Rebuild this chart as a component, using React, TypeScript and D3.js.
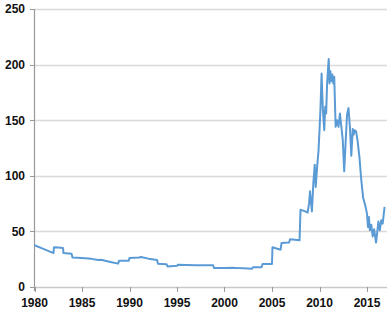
import React from "react";
import * as d3 from "d3";

const dates: number[] = [
  1980.0, 1981.0, 1982.0, 1982.05, 1982.5, 1983.0, 1983.05, 1983.9, 1984.0, 1985.0,
  1986.0, 1986.7, 1987.0, 1988.0, 1988.8, 1988.9, 1989.9, 1990.0, 1991.0, 1991.2,
  1992.0, 1992.9, 1993.0, 1993.9, 1994.0, 1995.0, 1995.1, 1996.0, 1997.0, 1998.8,
  1998.9, 2000.0, 2001.0, 2002.0, 2002.9, 2003.0, 2003.9, 2004.0, 2005.0, 2005.05,
  2005.9, 2006.0, 2006.8, 2006.9, 2007.9, 2008.0, 2008.5, 2008.75, 2008.9, 2009.0,
  2009.2, 2009.35, 2009.5, 2009.6, 2009.75, 2009.9, 2010.0, 2010.1, 2010.22, 2010.35,
  2010.5, 2010.6, 2010.7, 2010.8, 2010.97, 2011.05, 2011.15, 2011.25, 2011.35, 2011.45,
  2011.55, 2011.7, 2011.85, 2012.0, 2012.15, 2012.3, 2012.45, 2012.6, 2012.75, 2012.9,
  2013.05, 2013.2, 2013.35, 2013.5, 2013.6, 2013.7, 2013.85, 2014.0, 2014.2, 2014.4,
  2014.6, 2014.8, 2015.0, 2015.1, 2015.2, 2015.3, 2015.45, 2015.6, 2015.75, 2015.95,
  2016.05, 2016.2, 2016.35, 2016.5, 2016.65, 2016.85,
];

const values: number[] = [
  37.5, 34, 30.5, 35.8, 35.5, 35, 30.5, 30, 26.5, 26,
  25.3, 24.3, 24.5, 22.5, 21, 23.5, 23.5, 26, 26.5, 27,
  25.5, 24.3, 21, 20.5, 18.5, 19, 20, 19.8, 19.5, 19.5,
  17, 17, 17.2, 16.8, 16.5, 17.8, 17.8, 20.7, 20.7, 35.7,
  33.5, 39.5, 40, 43, 42, 69.5, 68, 67, 75, 86,
  68, 93, 110, 90, 108, 123, 141, 160, 192, 160,
  141, 162, 156, 183, 205, 183, 194, 185, 191, 183,
  189, 144, 150, 144, 156, 144, 132, 104, 130, 155,
  161, 144, 118, 142, 137, 141, 140, 132, 117, 96,
  80, 74, 66, 54, 63, 51, 56, 45.5, 52, 40,
  47, 59, 51, 60, 57, 72,
];

const yTicks: number[] = [0, 50, 100, 150, 200, 250];
const xTicks: number[] = [1980, 1985, 1990, 1995, 2000, 2005, 2010, 2015];

export default function App() {
  const width = 387;
  const height = 312;
  const x = d3.scaleLinear().domain([1980, 2015]).range([34.5, 367]);
  const y = d3.scaleLinear().domain([0, 250]).range([287, 9]);
  const pts: [number, number][] = dates.map((d, i) => [d, values[i]]);
  const line = d3
    .line<[number, number]>()
    .x((d) => x(d[0]))
    .y((d) => y(d[1]));
  const font = "'Liberation Sans', Arial, sans-serif";

  return (
    <svg
      width={width}
      height={height}
      style={{ position: "absolute", left: 0, top: 0, background: "#fff" }}
    >
      {yTicks.map((t) => (
        <g key={"y" + t}>
          {t > 0 && (
            <line x1={34.5} x2={387} y1={Math.round(y(t)) + 0.5} y2={Math.round(y(t)) + 0.5} stroke="#d9d9d9" strokeWidth={1.3} />
          )}
          <line x1={30} x2={34.5} y1={Math.round(y(t)) + 0.5} y2={Math.round(y(t)) + 0.5} stroke="#999" strokeWidth={1} />
          <text
            x={25}
            y={y(t)}
            dy="0.36em"
            textAnchor="end"
            fontFamily={font}
            fontWeight="bold"
            fontSize={12}
            fill="#111"
          >
            {t}
          </text>
        </g>
      ))}
      <line x1={34.5} x2={387} y1={287.5} y2={287.5} stroke="#c8c8c8" strokeWidth={1.3} />
      <line x1={34.5} x2={34.5} y1={9} y2={291} stroke="#999" strokeWidth={1.2} />
      {xTicks.map((t) => (
        <g key={"x" + t}>
          <line x1={Math.round(x(t)) + 0.5} x2={Math.round(x(t)) + 0.5} y1={287} y2={292} stroke="#999" strokeWidth={1} />
          <text
            x={x(t)}
            y={303}
            dy="0.36em"
            textAnchor="middle"
            fontFamily={font}
            fontWeight="bold"
            fontSize={12}
            fill="#111"
          >
            {t}
          </text>
        </g>
      ))}
      <path d={line(pts) || ""} fill="none" stroke="#5b9bd5" strokeWidth={2} strokeLinejoin="round" />
    </svg>
  );
}
